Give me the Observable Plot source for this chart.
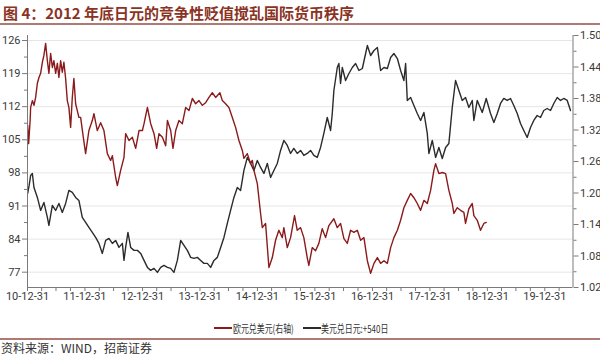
<!DOCTYPE html>
<html><head><meta charset="utf-8">
<script src="https://cdn.jsdelivr.net/npm/d3@7"></script>
<script src="https://cdn.jsdelivr.net/npm/@observablehq/plot@0.6"></script>
<style>
body{margin:0;background:#fff;width:600px;height:355px;position:relative;overflow:hidden;font-family:"Noto Sans CJK SC",sans-serif;}
#title{position:absolute;left:3px;top:2px;font-size:15px;font-weight:bold;color:#8a3324;line-height:22px;white-space:nowrap}
.hline{position:absolute;left:0;width:600px;height:0;border-top:2px solid #b07a74}
#chart{position:absolute;left:0;top:26px}
.sw{position:absolute;height:2px;width:18px}
.lt{position:absolute;font-size:11px;line-height:14px;color:#333;white-space:nowrap;transform:scaleX(0.72);transform-origin:left center}
#source{position:absolute;left:1px;top:340px;font-size:12px;line-height:15px;color:#333;white-space:nowrap}
</style></head>
<body>
<div id="title">图 4：2012 年底日元的竞争性贬值搅乱国际货币秩序</div>
<div class="hline" style="top:23px"></div>
<div id="chart"></div>
<div class="sw" style="left:214px;top:327px;background:#8b1a1a"></div>
<div class="lt" style="left:233px;top:321px">欧元兑美元(右轴)</div>
<div class="sw" style="left:303px;top:327px;background:#2b2b2b"></div>
<div class="lt" style="left:321px;top:321px">美元兑日元:+540日</div>
<div class="hline" style="top:338px"></div>
<div id="source">资料来源：WIND，招商证券</div>
<script>
// EUR/USD (right axis) — dates as decimal years
const eurT = [2011.000,2011.017,2011.043,2011.052,2011.082,2011.110,2011.139,2011.169,2011.197,2011.226,2011.256,2011.283,2011.313,2011.343,2011.370,2011.400,2011.430,2011.457,2011.487,2011.517,2011.544,2011.574,2011.603,2011.631,2011.661,2011.690,2011.718,2011.748,2011.777,2011.805,2011.835,2011.864,2011.892,2011.922,2011.969,2012.009,2012.066,2012.125,2012.153,2012.212,2012.270,2012.327,2012.386,2012.443,2012.473,2012.530,2012.560,2012.617,2012.675,2012.704,2012.762,2012.821,2012.878,2012.936,2012.995,2013.023,2013.082,2013.139,2013.197,2013.243,2013.283,2013.343,2013.400,2013.430,2013.487,2013.527,2013.574,2013.631,2013.690,2013.748,2013.805,2013.864,2013.922,2013.979,2014.038,2014.096,2014.153,2014.212,2014.270,2014.344,2014.386,2014.443,2014.501,2014.560,2014.617,2014.675,2014.734,2014.762,2014.821,2014.878,2014.908,2014.936,2014.995,2015.052,2015.082,2015.139,2015.197,2015.256,2015.313,2015.370,2015.430,2015.457,2015.517,2015.574,2015.643,2015.690,2015.748,2015.805,2015.864,2015.892,2015.951,2016.009,2016.066,2016.125,2016.183,2016.240,2016.327,2016.386,2016.443,2016.501,2016.560,2016.617,2016.675,2016.734,2016.791,2016.849,2016.908,2016.965,2017.023,2017.082,2017.139,2017.197,2017.256,2017.313,2017.370,2017.430,2017.487,2017.544,2017.603,2017.661,2017.718,2017.777,2017.835,2017.892,2017.951,2018.009,2018.066,2018.096,2018.153,2018.212,2018.270,2018.327,2018.386,2018.414,2018.473,2018.530,2018.588,2018.617,2018.675,2018.734,2018.762,2018.821,2018.878,2018.936,2018.977];
const eurV = [1.329,1.294,1.338,1.363,1.376,1.367,1.382,1.409,1.420,1.428,1.449,1.462,1.485,1.452,1.428,1.466,1.439,1.452,1.428,1.447,1.420,1.452,1.430,1.449,1.418,1.376,1.363,1.325,1.382,1.418,1.370,1.357,1.344,1.344,1.306,1.275,1.319,1.338,1.351,1.319,1.334,1.319,1.275,1.262,1.271,1.230,1.214,1.243,1.268,1.313,1.300,1.306,1.285,1.319,1.319,1.332,1.363,1.332,1.313,1.285,1.313,1.306,1.290,1.338,1.319,1.285,1.319,1.338,1.332,1.363,1.357,1.380,1.370,1.376,1.367,1.372,1.382,1.391,1.382,1.391,1.376,1.370,1.363,1.344,1.325,1.300,1.281,1.266,1.275,1.256,1.262,1.243,1.218,1.161,1.134,1.142,1.058,1.077,1.110,1.129,1.115,1.134,1.096,1.115,1.157,1.129,1.134,1.115,1.077,1.062,1.096,1.090,1.104,1.132,1.115,1.138,1.151,1.134,1.142,1.113,1.104,1.129,1.125,1.129,1.110,1.115,1.071,1.047,1.066,1.077,1.066,1.071,1.066,1.096,1.115,1.129,1.148,1.172,1.186,1.199,1.191,1.180,1.167,1.186,1.180,1.205,1.243,1.256,1.237,1.239,1.237,1.205,1.180,1.161,1.172,1.167,1.163,1.142,1.170,1.180,1.157,1.148,1.129,1.142,1.144];

// USD/JPY shifted +540 days (left axis)
const jpyT = [2011.000,2011.026,2011.052,2011.082,2011.110,2011.169,2011.226,2011.283,2011.343,2011.370,2011.430,2011.487,2011.544,2011.603,2011.661,2011.718,2011.777,2011.835,2011.892,2011.951,2012.009,2012.066,2012.125,2012.183,2012.240,2012.299,2012.357,2012.414,2012.473,2012.530,2012.588,2012.647,2012.675,2012.704,2012.744,2012.791,2012.849,2012.908,2012.965,2013.023,2013.082,2013.139,2013.197,2013.256,2013.313,2013.370,2013.430,2013.487,2013.544,2013.603,2013.661,2013.718,2013.777,2013.835,2013.892,2013.951,2014.009,2014.066,2014.125,2014.183,2014.240,2014.299,2014.357,2014.414,2014.473,2014.530,2014.588,2014.647,2014.704,2014.762,2014.821,2014.878,2014.936,2014.995,2015.052,2015.110,2015.169,2015.226,2015.283,2015.343,2015.400,2015.457,2015.517,2015.574,2015.631,2015.690,2015.748,2015.805,2015.864,2015.922,2015.979,2016.038,2016.096,2016.153,2016.212,2016.270,2016.299,2016.327,2016.386,2016.414,2016.443,2016.473,2016.530,2016.588,2016.647,2016.704,2016.762,2016.821,2016.878,2016.908,2016.965,2017.023,2017.082,2017.139,2017.197,2017.256,2017.313,2017.370,2017.430,2017.487,2017.544,2017.574,2017.603,2017.661,2017.718,2017.777,2017.835,2017.892,2017.951,2017.979,2018.038,2018.096,2018.153,2018.212,2018.270,2018.327,2018.386,2018.443,2018.501,2018.560,2018.617,2018.675,2018.734,2018.762,2018.821,2018.908,2018.977,2019.052,2019.110,2019.169,2019.226,2019.283,2019.343,2019.400,2019.457,2019.517,2019.574,2019.631,2019.690,2019.748,2019.805,2019.864,2019.922,2019.979,2020.038,2020.096,2020.153,2020.212,2020.270,2020.327,2020.386,2020.443];
const jpyV = [93.65,95.35,97.46,97.88,94.92,92.81,90.06,91.75,88.58,86.89,91.12,90.06,91.54,89.64,91.54,94.29,93.87,92.81,92.18,88.58,87.53,86.47,85.41,84.35,83.09,80.97,83.72,84.14,83.09,83.72,82.24,83.09,79.49,82.24,85.41,82.24,81.61,81.61,80.97,79.49,78.01,77.38,77.80,76.95,78.01,78.43,78.01,77.80,76.95,79.49,83.72,82.66,81.61,80.13,79.91,80.13,79.49,78.86,78.86,78.01,79.49,80.13,82.24,84.35,87.31,90.06,92.81,94.92,94.29,98.52,101.27,100.00,98.52,100.63,99.15,97.88,100.00,97.04,98.52,100.00,102.75,104.86,103.80,102.11,103.17,102.11,102.75,101.69,102.11,102.75,101.69,101.27,103.38,106.34,109.72,106.97,110.57,115.43,120.29,121.14,116.91,120.29,117.54,119.02,120.29,121.14,119.66,120.08,123.25,124.94,122.83,123.89,124.52,119.66,120.29,120.08,122.41,123.25,122.19,119.66,117.54,121.14,113.32,113.95,112.26,110.57,109.09,110.78,106.34,102.11,104.86,101.27,103.38,101.05,103.38,104.23,111.84,117.54,115.43,113.32,113.95,111.84,113.32,109.09,113.32,110.78,113.74,110.57,108.67,110.57,112.68,113.74,113.32,113.74,112.26,110.57,108.45,106.97,105.49,107.61,109.09,110.14,109.72,111.20,111.62,111.20,112.68,113.95,113.32,113.74,113.32,111.20];

const xDomain = ["2010-12-31", "2020-06-27"];
const xTickDates = ["2010-12-31","2011-12-31","2012-12-31","2013-12-31","2014-12-31","2015-12-31","2016-12-31","2017-12-31","2018-12-31","2019-12-31"];
const leftDomain = [73.76, 127.06];
const leftTicks = [77, 84, 91, 98, 105, 112, 119, 126];
const rightDomain = [1.02, 1.50];
const rightTicks = [1.02, 1.08, 1.14, 1.20, 1.26, 1.32, 1.38, 1.44, 1.50];

function decToDate(d) {
  const y = Math.floor(d);
  const s = Date.UTC(y, 0, 1), e = Date.UTC(y + 1, 0, 1);
  return new Date(s + (d - y) * (e - s));
}
const eur = eurT.map((t, i) => ({date: decToDate(t), value: eurV[i]}));
const jpy = jpyT.map((t, i) => ({date: decToDate(t), value: jpyV[i]}));

const eurToLeft = d3.scaleLinear().domain(rightDomain).range(leftDomain);
const xd = xDomain.map(s => new Date(s));
const xMajor = xTickDates.map(s => new Date(s));
const xMinor = [];
for (let y = 2011; y <= 2020; y++) for (const m of [3, 6, 9]) {
  const dt = new Date(Date.UTC(y, m, 0));
  if (dt <= xd[1]) xMinor.push(dt);
}
const leftMinor = leftTicks.slice(0, -1).map(v => v + 3.5);
const rightMinor = rightTicks.slice(0, -1).map(v => v + 0.03);
const axisColor = "#7a7a7a";
const blank = () => "";

const chart = Plot.plot({
  width: 600, height: 281,
  marginLeft: 27, marginRight: 27.5, marginTop: 9, marginBottom: 20,
  x: {type: "utc", domain: xd, label: null},
  y: {domain: leftDomain, label: null},
  style: {fontFamily: "Roboto, sans-serif", fontSize: "11px", color: "#3a3a3a", background: "transparent"},
  marks: [
    Plot.gridY(leftTicks, {stroke: "#e6e6e6", strokeOpacity: 1}),
    Plot.line(jpy, {x: "date", y: "value", stroke: "#2b2b2b", strokeWidth: 1.4}),
    Plot.line(eur, {x: "date", y: d => eurToLeft(d.value), stroke: "#8b1a1a", strokeWidth: 1.4}),
    Plot.ruleX([xd[0]], {stroke: axisColor}),
    Plot.ruleX([xd[1]], {stroke: axisColor}),
    Plot.ruleY([leftDomain[0]], {stroke: axisColor}),
    Plot.axisY(leftTicks, {anchor: "left", tickSize: 5, tickPadding: 2, stroke: axisColor, label: null}),
    Plot.axisY(leftMinor, {anchor: "left", tickSize: 3, stroke: axisColor, label: null, tickFormat: blank}),
    Plot.axisY(rightTicks.map(eurToLeft), {anchor: "right", tickSize: 5, tickPadding: 2, stroke: axisColor, label: null,
      tickFormat: d => eurToLeft.invert(d).toFixed(2)}),
    Plot.axisY(rightMinor.map(eurToLeft), {anchor: "right", tickSize: 3, stroke: axisColor, label: null, tickFormat: blank}),
    Plot.axisX(xMajor, {anchor: "bottom", tickSize: 4, tickPadding: 1, stroke: axisColor, label: null,
      tickFormat: d3.utcFormat("%y-%m-%d")}),
    Plot.axisX(xMinor, {anchor: "bottom", tickSize: 4, stroke: axisColor, label: null, tickFormat: blank})
  ]
});
document.getElementById("chart").append(chart);
</script>
</body></html>
